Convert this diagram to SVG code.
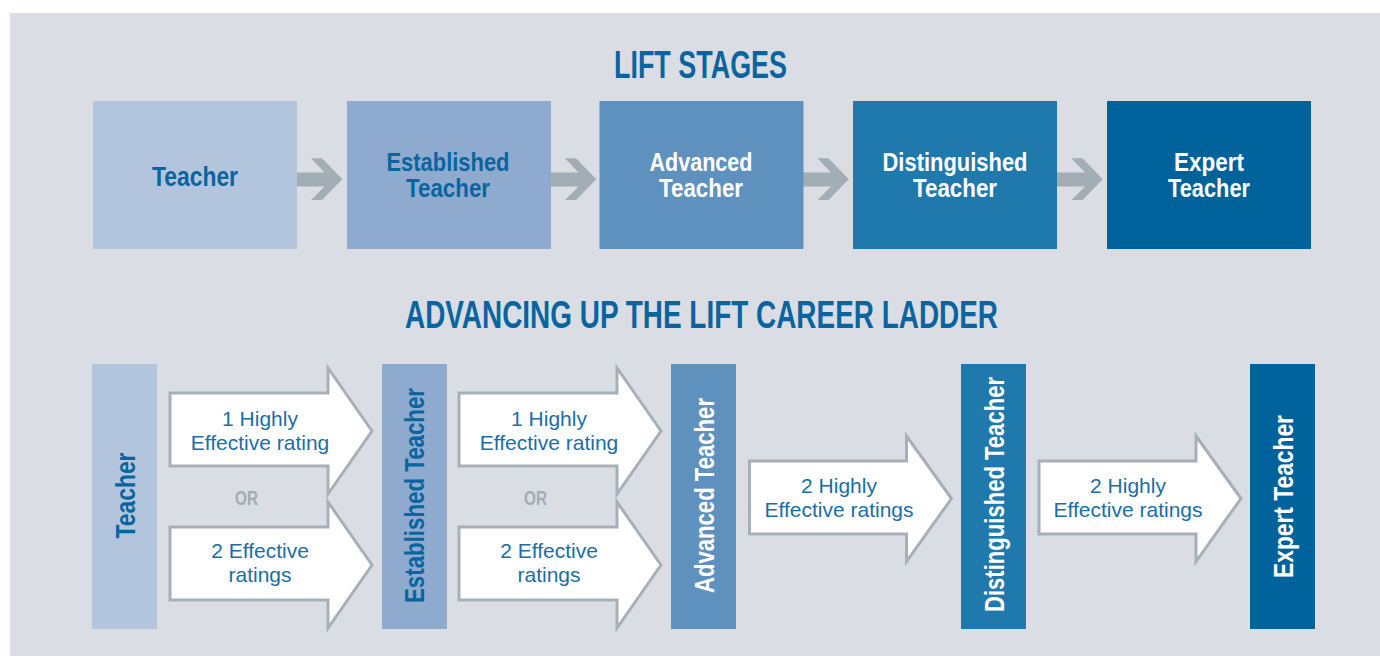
<svg xmlns="http://www.w3.org/2000/svg" width="1380" height="656" viewBox="0 0 1380 656">
<style>
.title{font-family:"Liberation Sans",Arial,sans-serif;font-weight:bold;font-size:38px;fill:#0a64a0;text-anchor:middle}
.lbl{font-family:"Liberation Sans",Arial,sans-serif;font-weight:bold;font-size:27px;text-anchor:middle}
.lbl2{font-family:"Liberation Sans",Arial,sans-serif;font-weight:bold;font-size:25px;text-anchor:middle}
.blue{fill:#0a64a0}
.white{fill:#ffffff}
.rt{font-family:"Liberation Sans",Arial,sans-serif;font-size:21px;fill:#1b6ea6;text-anchor:middle}
.or{font-family:"Liberation Sans",Arial,sans-serif;font-weight:bold;font-size:21px;fill:#a3acb4;text-anchor:middle}
.garrow{fill:#a2adb5;stroke:none}
.warrow{fill:#ffffff;stroke:#a7b0b8;stroke-width:3}
</style>
<defs>
<polygon id="ga" class="garrow" points="0,0 29.5,0 16,-14.2 27,-14.2 47.3,6.8 27,27.5 16,27.5 29.5,14 0,14"/>
<polygon id="wa2" class="warrow" points="0,25 158,25 158,0 202,63 158,126 158,98 0,98"/>
<polygon id="wa1" class="warrow" points="0,25 157,25 157,0 202,62.5 157,125.5 157,98 0,98"/>
</defs>
<rect x="10" y="13" width="1370" height="643" fill="#dadee4"/>
<text class="title" x="700.5" y="78" textLength="173" lengthAdjust="spacingAndGlyphs">LIFT STAGES</text>
<text class="title" x="701.5" y="327.5" textLength="593" lengthAdjust="spacingAndGlyphs">ADVANCING UP THE LIFT CAREER LADDER</text>

<g id="connectors">
<use href="#ga" x="295" y="172.5"/>
<use href="#ga" x="549" y="172.5"/>
<use href="#ga" x="801.5" y="172.5"/>
<use href="#ga" x="1055.5" y="172.5"/>
<g id="c-teacher-established">
<use href="#wa2" x="170" y="368"/>
<use href="#wa2" x="170" y="502"/>
<text class="rt" x="260" y="426">1 Highly</text>
<text class="rt" x="260" y="450">Effective rating</text>
<text class="or" x="246.5" y="505" textLength="23" lengthAdjust="spacingAndGlyphs">OR</text>
<text class="rt" x="260" y="558">2 Effective</text>
<text class="rt" x="260" y="582">ratings</text>
</g>
<g id="c-established-advanced">
<use href="#wa2" x="459" y="368"/>
<use href="#wa2" x="459" y="502"/>
<text class="rt" x="549" y="426">1 Highly</text>
<text class="rt" x="549" y="450">Effective rating</text>
<text class="or" x="535.5" y="505" textLength="23" lengthAdjust="spacingAndGlyphs">OR</text>
<text class="rt" x="549" y="558">2 Effective</text>
<text class="rt" x="549" y="582">ratings</text>
</g>
<g id="c-advanced-distinguished">
<use href="#wa1" x="749.5" y="436"/>
<text class="rt" x="839" y="493">2 Highly</text>
<text class="rt" x="839" y="517">Effective ratings</text>
</g>
<g id="c-distinguished-expert">
<use href="#wa1" x="1039" y="436"/>
<text class="rt" x="1128" y="493">2 Highly</text>
<text class="rt" x="1128" y="517">Effective ratings</text>
</g>
</g>

<g id="stage-teacher">
<rect x="93" y="101" width="204" height="148" fill="#b3c5dd"/>
<text class="lbl blue" x="195" y="185.5" textLength="86" lengthAdjust="spacingAndGlyphs">Teacher</text>
</g>
<g id="stage-established">
<rect x="347" y="101" width="204" height="148" fill="#8eabcf"/>
<text class="lbl2 blue" x="448" y="171" textLength="123" lengthAdjust="spacingAndGlyphs">Established</text>
<text class="lbl2 blue" x="448" y="197" textLength="84" lengthAdjust="spacingAndGlyphs">Teacher</text>
</g>
<g id="stage-advanced">
<rect x="599.5" y="101" width="204" height="148" fill="#5f91bf"/>
<text class="lbl2 white" x="701" y="171" textLength="103" lengthAdjust="spacingAndGlyphs">Advanced</text>
<text class="lbl2 white" x="701" y="197" textLength="84" lengthAdjust="spacingAndGlyphs">Teacher</text>
</g>
<g id="stage-distinguished">
<rect x="853" y="101" width="204" height="148" fill="#2079ad"/>
<text class="lbl2 white" x="955" y="171" textLength="145" lengthAdjust="spacingAndGlyphs">Distinguished</text>
<text class="lbl2 white" x="955" y="197" textLength="84" lengthAdjust="spacingAndGlyphs">Teacher</text>
</g>
<g id="stage-expert">
<rect x="1107" y="101" width="204" height="148" fill="#00629b"/>
<text class="lbl2 white" x="1209" y="171" textLength="70" lengthAdjust="spacingAndGlyphs">Expert</text>
<text class="lbl2 white" x="1209" y="197" textLength="82" lengthAdjust="spacingAndGlyphs">Teacher</text>
</g>

<g id="ladder-teacher">
<rect x="92" y="364" width="65" height="265" fill="#b3c5dd"/>
<text class="lbl blue" transform="translate(134.5,495.5) rotate(-90)" textLength="86" lengthAdjust="spacingAndGlyphs">Teacher</text>
</g>
<g id="ladder-established">
<rect x="382" y="364" width="65" height="265" fill="#8eabcf"/>
<text class="lbl blue" transform="translate(424,495.5) rotate(-90)" textLength="215" lengthAdjust="spacingAndGlyphs">Established Teacher</text>
</g>
<g id="ladder-advanced">
<rect x="671" y="364" width="65" height="265" fill="#5f91bf"/>
<text class="lbl white" transform="translate(713.5,495.5) rotate(-90)" textLength="195" lengthAdjust="spacingAndGlyphs">Advanced Teacher</text>
</g>
<g id="ladder-distinguished">
<rect x="961" y="364" width="65" height="265" fill="#2079ad"/>
<text class="lbl white" transform="translate(1003.5,494.5) rotate(-90)" textLength="235" lengthAdjust="spacingAndGlyphs">Distinguished Teacher</text>
</g>
<g id="ladder-expert">
<rect x="1250" y="364" width="65" height="265" fill="#00629b"/>
<text class="lbl white" transform="translate(1293,496.5) rotate(-90)" textLength="163" lengthAdjust="spacingAndGlyphs">Expert Teacher</text>
</g>
</svg>
